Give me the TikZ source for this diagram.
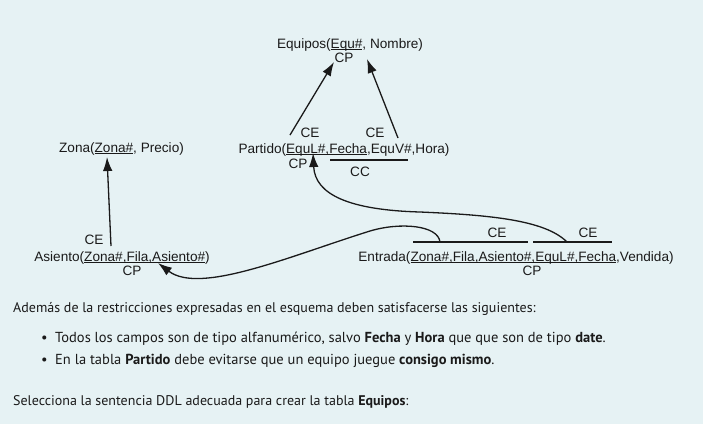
\documentclass[tikz,border=0pt]{standalone}
\usepackage{fontspec}
\setmainfont{Liberation Sans}
\newfontfamily\bodyfont{PT Sans}
\usetikzlibrary{arrows.meta}
\definecolor{bgc}{HTML}{E6F2F4}
\definecolor{txt}{HTML}{1A1A1A}
\newsavebox\ulbox
\newcommand\ulx[1]{\sbox\ulbox{#1}\rlap{\rule[-1.6pt]{\wd\ulbox}{0.8pt}}\usebox\ulbox}
\tikzset{
  lbl/.style={inner sep=0pt, text=txt, font=\fontsize{13.6}{16}\selectfont},
  tbl/.style={lbl, anchor=base},
  para/.style={inner sep=0pt, anchor=base west, text=txt, font=\bodyfont\fontsize{14}{16}\selectfont},
  item/.style={para, font=\bodyfont\fontsize{14.5}{16}\selectfont},
  conn/.style={line width=1.3pt, draw=txt, -{Latex[length=14pt,width=9.5pt]}},
  bar/.style={line width=1.3pt, draw=txt}
}
\begin{document}
\begin{tikzpicture}[x=1pt,y=-1pt]
\fill[bgc] (0,0) rectangle (703,424);
\useasboundingbox (0,0) rectangle (703,424);

% tables
\node[tbl] (equipos) at (350,48.5) {Equipos(\ulx{Equ\#}, Nombre)};
\node[lbl] (cpEq) at (344,58) {CP};
\node[tbl] (partido) at (344,153) {Partido(\ulx{EquL\#,Fecha},EquV\#,Hora)};
\node[lbl] (ceP1) at (310,133) {CE};
\node[lbl] (ceP2) at (375,133) {CE};
\node[lbl] (cpP) at (298,164) {CP};
\node[lbl] (ccP) at (360,172) {CC};
\node[tbl] (zona) at (121.5,152.5) {Zona(\ulx{Zona\#}, Precio)};
\node[tbl] (asiento) at (122,261) {Asiento(\ulx{Zona\#,Fila,Asiento\#})};
\node[lbl] (ceA) at (94,240) {CE};
\node[lbl] (cpA) at (132,271) {CP};
\node[tbl] (entrada) at (516,261.5) {Entrada(\ulx{Zona\#,Fila,Asiento\#,EquL\#,Fecha},Vendida)};
\node[lbl] (ceE1) at (497,233) {CE};
\node[lbl] (ceE2) at (588,233) {CE};
\node[lbl] (cpE) at (532,271) {CP};

% bars
\coordinate (ccL) at (330,160);
\coordinate (ccR) at (408,160);
\draw[bar] (ccL) -- (ccR);
\coordinate (b1L) at (413,242);
\coordinate (b1R) at (528,242);
\coordinate (b2L) at (533,242);
\coordinate (b2R) at (612,242);
\draw[bar] (b1L) -- (b1R);
\draw[bar] (b2L) -- (b2R);

% connector endpoints
\coordinate (pL) at (290,135);
\coordinate (pV) at (398,138);
\coordinate (eqL) at (334,62);
\coordinate (eqR) at (367,59);
\coordinate (aZ) at (111,246);
\coordinate (zZ) at (107,157);
\coordinate (eEqu) at (567,242);
\coordinate (pEqu) at (313,153);
\coordinate (eAs) at (440,242);
\coordinate (aAs) at (158,263);

\draw[conn] (pL) -- (eqL);
\draw[conn] (pV) -- (eqR);
\draw[conn] (aZ) -- (zZ);
\draw[conn] (eEqu) .. controls (545,220) and (490,215) .. (420,212)
  .. controls (350,210) and (315,195) .. (pEqu);
\draw[conn] (eAs) .. controls (438,225) and (400,222) .. (370,231)
  .. controls (290,256) and (200,295) .. (aAs);

% text below
\node[para] (p1) at (13,312) {Además de la restricciones expresadas en el esquema deben satisfacerse las siguientes:};
\node[item] (bul1) at (41,342) {•};
\node[item] (t1) at (55,342) {Todos los campos son de tipo alfanumérico, salvo \textbf{Fecha} y \textbf{Hora} que que son de tipo \textbf{date}.};
\node[item] (bul2) at (41,364) {•};
\node[item] (t2) at (55,364) {En la tabla \textbf{Partido} debe evitarse que un equipo juegue \textbf{consigo mismo}.};
\node[para] (p2) at (13,405) {Selecciona la sentencia DDL adecuada para crear la tabla \textbf{Equipos}:};
\end{tikzpicture}
\end{document}
